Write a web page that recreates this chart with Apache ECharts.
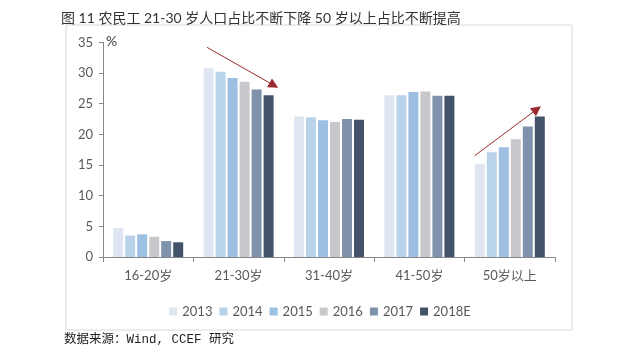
<!DOCTYPE html>
<html>
<head>
<meta charset="utf-8">
<script src="https://cdn.jsdelivr.net/npm/echarts@6/dist/echarts.min.js"></script>
<style>
html, body { margin: 0; padding: 0; background: #fff; }
#main { width: 640px; height: 351px; }
</style>
</head>
<body>
<div id="main"></div>
<script>
// 年龄段
var categories = ['16-20岁', '21-30岁', '31-40岁', '41-50岁', '50岁以上'];
var years = ['2013', '2014', '2015', '2016', '2017', '2018E'];
// 各年占比 (%)
var v2013 = [4.7, 30.8, 22.9, 26.4, 15.2];
var v2014 = [3.5, 30.2, 22.8, 26.4, 17.1];
var v2015 = [3.7, 29.2, 22.3, 26.9, 17.9];
var v2016 = [3.3, 28.6, 22.0, 27.0, 19.2];
var v2017 = [2.6, 27.3, 22.5, 26.3, 21.3];
var v2018 = [2.4, 26.4, 22.4, 26.3, 22.9];
var yTicks = [0, 5, 10, 15, 20, 25, 30, 35];
// 趋势箭头 (类目位置, 数值)
var arrowDown = [[1.15, 34.2], [1.89, 28.0]];
var arrowUp = [[4.11, 16.5], [4.80, 24.1]];

var colors = ['#dfe6f1', '#b9d3ea', '#9dbfe2', '#c8c8cc', '#8092ab', '#435369'];
var allData = [v2013, v2014, v2015, v2016, v2017, v2018];
var font = 'Lato, "Noto Sans CJK SC", sans-serif';

var myChart = echarts.init(document.getElementById('main'));

var series = [];
for (var i = 0; i < years.length; i++) {
	series.push({
		name: years[i],
		type: 'bar',
		data: allData[i],
		barWidth: 10,
		barGap: '20%',
		itemStyle: { color: colors[i] }
	});
}
// 红色趋势箭头
series.push({
	type: 'lines',
	coordinateSystem: 'cartesian2d',
	xAxisIndex: 1,
	silent: true,
	symbol: ['none', 'triangle'],
	symbolSize: [0, 10],
	lineStyle: { color: '#9a2a2e', width: 1, opacity: 1 },
	itemStyle: { color: '#c00000' },
	data: [{ coords: arrowDown }, { coords: arrowUp }],
	z: 10
});

var option = {
	animation: false,
	backgroundColor: '#fff',
	textStyle: { fontFamily: font },
	title: {
		text: '图 11 农民工 21-30 岁人口占比不断下降 50 岁以上占比不断提高',
		left: 56,
		top: 6,
		textStyle: { fontSize: 14, fontWeight: 'normal', color: '#333', fontFamily: font }
	},
	graphic: [{
		type: 'rect',
		shape: { x: 66, y: 25, width: 506, height: 305 },
		style: { fill: null, stroke: '#d9d9d9', lineWidth: 1 },
		z: -1
	}, {
		type: 'text',
		left: 64,
		top: 333,
		style: { text: '数据来源：Wind, CCEF 研究', fontSize: 12.5, fill: '#222', fontFamily: '"Liberation Mono", "Noto Sans CJK SC", monospace' }
	}, {
		type: 'text',
		left: 106,
		top: 34,
		style: { text: '%', fontSize: 14, fill: '#404040', fontFamily: font }
	}],
	legend: {
		data: years,
		left: 'center',
		top: 300,
		itemWidth: 8,
		itemHeight: 8,
		itemGap: 7,
		icon: 'rect',
		textStyle: { fontSize: 13, color: '#595959', fontFamily: font }
	},
	grid: {
		left: 103,
		right: 85,
		top: 42.4,
		bottom: 94,
		containLabel: false
	},
	xAxis: [{
		type: 'category',
		data: categories,
		axisLine: { lineStyle: { color: '#868686' } },
		axisTick: { show: true, length: 5, lineStyle: { color: '#868686' } },
		axisLabel: { fontSize: 13, color: '#595959', margin: 12 }
	}, {
		type: 'value',
		min: 0,
		max: 5,
		show: false
	}],
	yAxis: {
		type: 'value',
		min: yTicks[0],
		max: yTicks[yTicks.length - 1],
		interval: 5,
		axisLine: { show: true, lineStyle: { color: '#868686' } },
		axisTick: { show: true, length: 4, lineStyle: { color: '#868686' } },
		axisLabel: { fontSize: 13, color: '#595959', margin: 10 },
		splitLine: { show: false }
	},
	series: series
};
myChart.setOption(option);
</script>
</body>
</html>
